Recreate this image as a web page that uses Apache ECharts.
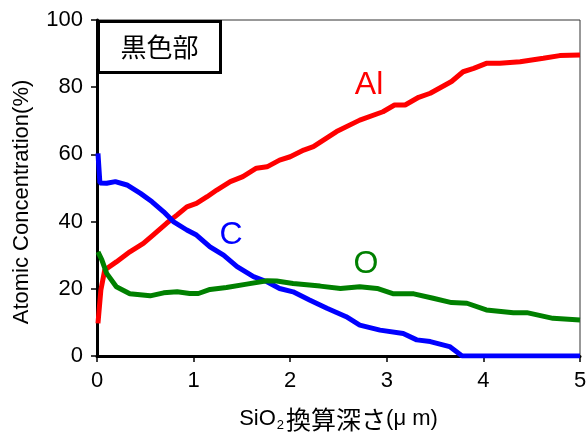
<!DOCTYPE html>
<html><head><meta charset="utf-8">
<script src="https://cdn.jsdelivr.net/npm/echarts@6/dist/echarts.min.js"></script>
<style>html,body{margin:0;padding:0;background:#fff}#c{width:586px;height:432px}</style>
</head><body><div id="c"></div>
<script>
const xTicks = [0,1,2,3,4,5];
const yTicks = [0,20,40,60,80,100];
const alData = [[0.01,9.7],[0.04,19.6],[0.08,25.6],[0.2,28],[0.34,31],[0.48,33.5],[0.58,36],[0.72,39.5],[0.83,42],[0.93,44.4],[1.03,45.4],[1.14,47.4],[1.24,49.4],[1.38,51.9],[1.51,53.4],[1.65,55.9],[1.76,56.3],[1.89,58.3],[2.0,59.3],[2.14,61.3],[2.24,62.3],[2.48,66.8],[2.72,70.2],[2.96,72.7],[3.08,74.7],[3.19,74.7],[3.33,77],[3.45,78.2],[3.67,81.7],[3.79,84.6],[3.9,85.6],[4.03,87.1],[4.17,87.1],[4.38,87.6],[4.62,88.6],[4.79,89.4],[5.0,89.6]];
const cData = [[0.01,60.3],[0.03,51.5],[0.1,51.4],[0.19,51.9],[0.31,50.9],[0.45,48.4],[0.57,45.9],[0.69,42.9],[0.79,40],[0.93,37.5],[1.03,36],[1.17,32.5],[1.31,30],[1.45,26.6],[1.62,23.6],[1.76,22.1],[1.89,20.1],[2.03,19.1],[2.2,16.7],[2.38,14.2],[2.58,11.7],[2.72,9.2],[2.93,7.7],[3.17,6.7],[3.31,4.8],[3.45,4.3],[3.65,2.8],[3.78,0],[4.0,0],[4.5,0],[5.0,0]];
const oData = [[0.01,31],[0.05,28.6],[0.1,24.6],[0.2,20.6],[0.34,18.5],[0.55,17.9],[0.69,18.8],[0.83,19.1],[0.96,18.6],[1.05,18.6],[1.17,19.8],[1.34,20.4],[1.55,21.4],[1.76,22.4],[1.86,22.3],[2.03,21.6],[2.31,20.8],[2.52,20.1],[2.72,20.6],[2.9,20.1],[3.07,18.5],[3.28,18.5],[3.48,17.2],[3.67,15.9],[3.83,15.7],[4.03,13.7],[4.31,12.9],[4.45,12.9],[4.72,11.2],[5.0,10.7]];
const seriesNames = ['Al','C','O'];
const labelPos = [[2.816,80.6],[1.387,36.0],[2.785,27.4]];
const colors = ['#ff0000','#0000ff','#008000'];
const titleText = '黒色部';
const xName = ['SiO','2','換算深さ','(μ m)'];
const yName = 'Atomic Concentration(%)';

const font = "'Liberation Sans','Noto Sans CJK JP',sans-serif";
const cjk = "'Noto Sans CJK JP',sans-serif";
const chart = echarts.init(document.getElementById('c'));
const datas = [alData,cData,oData];
chart.setOption({
  animation:false,
  grid:{left:97,right:6,top:20,bottom:76,show:true,borderColor:'#333',borderWidth:1,outerBoundsMode:'none',containLabel:false},
  xAxis:{type:'value',min:xTicks[0],max:xTicks[xTicks.length-1],interval:1,
    axisLine:{lineStyle:{color:'#000',width:3}},
    axisTick:{inside:false,length:6,lineStyle:{color:'#000',width:1.5}},
    axisLabel:{color:'#000',fontSize:22,fontFamily:font,margin:14},
    splitLine:{show:false},
    name:'{a|'+xName[0]+'}{s|'+xName[1]+'}{c|'+xName[2]+'}{a|'+xName[3]+'}',nameLocation:'middle',nameGap:50,
    nameTextStyle:{rich:{
      a:{fontSize:22,fontFamily:font,color:'#000',lineHeight:26},
      s:{fontSize:13,fontFamily:font,color:'#000',verticalAlign:'bottom',padding:[0,2,0,1],lineHeight:20},
      c:{fontSize:25,fontFamily:cjk,color:'#000',lineHeight:26}}}
  },
  yAxis:{type:'value',min:yTicks[0],max:yTicks[yTicks.length-1],interval:20,
    axisLine:{show:true,lineStyle:{color:'#000',width:3}},
    axisTick:{show:true,inside:false,length:6,lineStyle:{color:'#000',width:1.5}},
    axisLabel:{color:'#000',fontSize:22,fontFamily:font,margin:14},
    splitLine:{show:false},
    name:yName,nameLocation:'middle',nameGap:64,
    nameTextStyle:{fontSize:22,fontFamily:font,color:'#000',padding:[0,28,0,0]}
  },
  series: datas.map((d,i)=>({
    type:'line',name:seriesNames[i],data:d,symbol:'none',
    lineStyle:{color:colors[i],width:5},
    markPoint:{symbol:'circle',symbolSize:0,
      label:{show:true,formatter:seriesNames[i],color:colors[i],fontSize:32,fontFamily:font,position:'inside'},
      data:[{coord:labelPos[i]}]}
  })),
  graphic:[{type:'group',left:97,top:20,z:100,children:[
    {type:'rect',shape:{x:0,y:0,width:122,height:51},style:{fill:'#fff',stroke:'#000',lineWidth:3}},
    {type:'text',x:61,y:26,style:{text:titleText,fontSize:26,fontFamily:cjk,fill:'#000',align:'center',verticalAlign:'middle'}}
  ]}]
});
</script></body></html>
